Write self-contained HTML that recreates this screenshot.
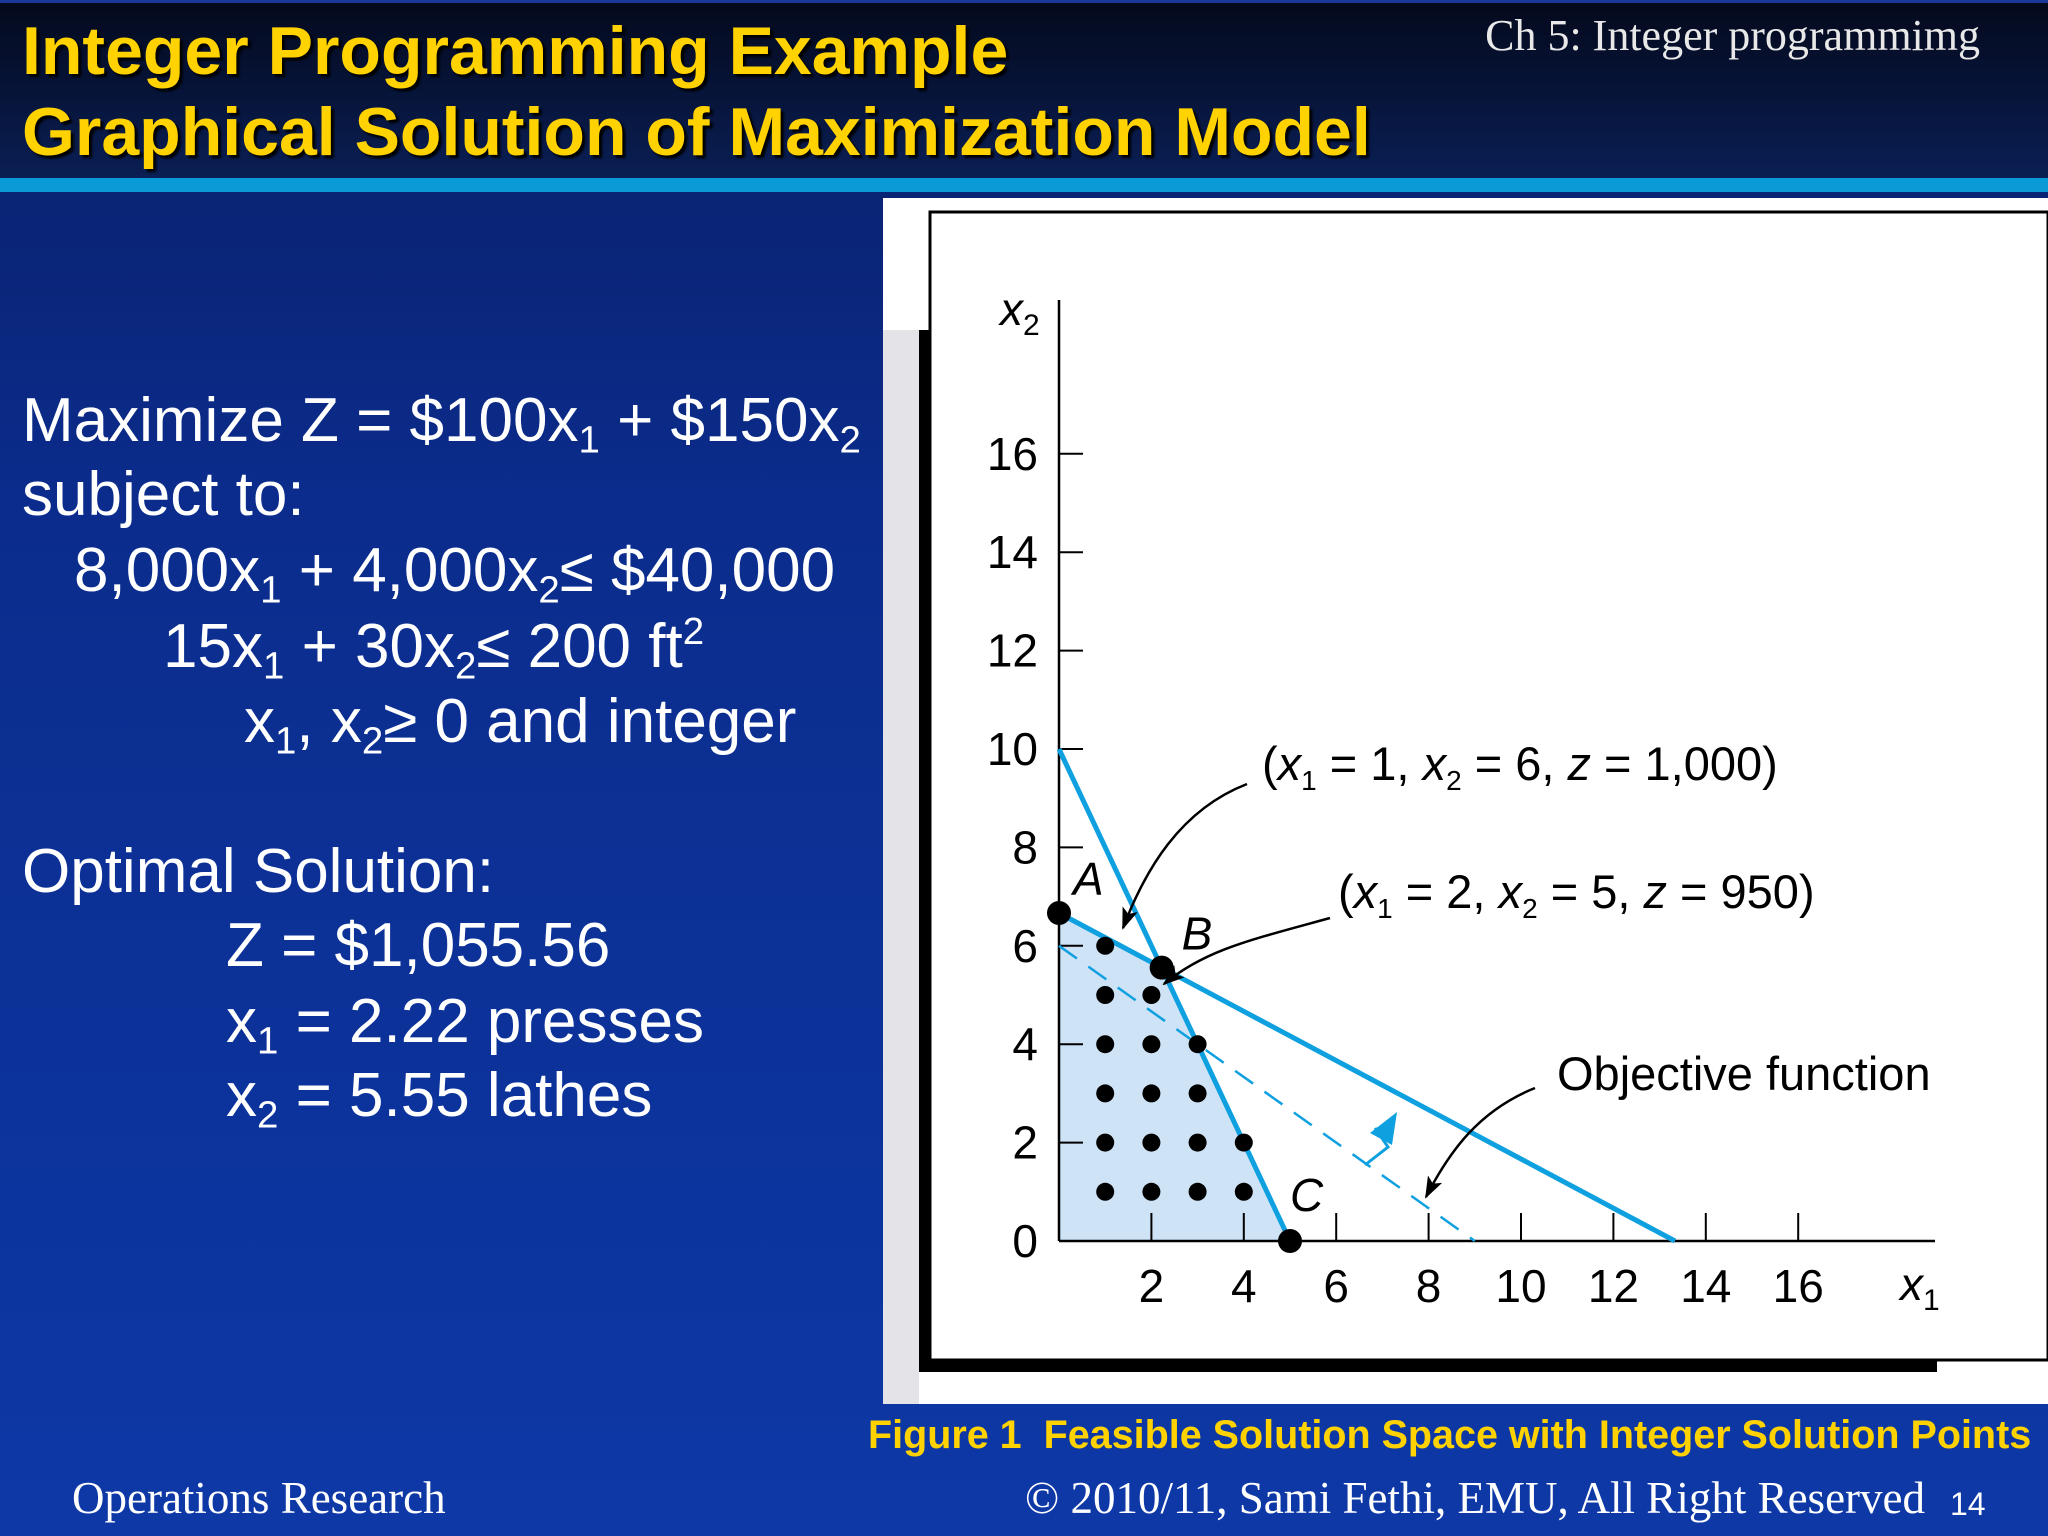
<!DOCTYPE html>
<html><head><meta charset="utf-8"><style>
html,body{margin:0;padding:0;width:2048px;height:1536px;overflow:hidden;}
body{background:linear-gradient(180deg,#0a1f66 0px,#0b2c8c 500px,#0d38a6 1536px);font-family:"Liberation Sans",sans-serif;position:relative;}
#hdr{position:absolute;left:0;top:0;width:2048px;height:178px;background:linear-gradient(180deg,#04091c,#0a1f55);border-top:3px solid #1a3a9a;box-sizing:border-box;}
#band{position:absolute;left:0;top:178px;width:2048px;height:14px;background:#0a9ad6;}
.t{position:absolute;white-space:nowrap;}
.title{color:#ffd200;font-weight:bold;font-size:68px;left:22px;text-shadow:3px 3px 2px #000;}
.lt{color:#fff;font-size:62px;}
sub{font-size:0.62em;vertical-align:-0.3em;line-height:0}
sup{font-size:0.62em;vertical-align:0.6em;line-height:0}
.serif{font-family:"Liberation Serif",serif;color:#fff;}
</style></head><body>
<div id="hdr"></div>
<div id="band"></div>
<div class="t title" style="top:12px">Integer Programming Example</div>
<div class="t title" style="top:93px">Graphical Solution of Maximization Model</div>
<div class="t serif" style="right:68px;top:10px;font-size:44px;color:#e8e8e8">Ch 5: Integer programmimg</div>

<div class="t lt" style="left:22px;top:385px">Maximize Z = $100x<sub>1</sub> + $150x<sub>2</sub></div>
<div class="t lt" style="left:22px;top:459px">subject to:</div>
<div class="t lt" style="left:74px;top:535px">8,000x<sub>1</sub> + 4,000x<sub>2</sub>≤ $40,000</div>
<div class="t lt" style="left:163px;top:611px">15x<sub>1</sub> + 30x<sub>2</sub>≤ 200 ft<sup>2</sup></div>
<div class="t lt" style="left:244px;top:686px">x<sub>1</sub>, x<sub>2</sub>≥ 0 and integer</div>
<div class="t lt" style="left:22px;top:836px">Optimal Solution:</div>
<div class="t lt" style="left:226px;top:910px">Z = $1,055.56</div>
<div class="t lt" style="left:226px;top:986px">x<sub>1</sub> = 2.22 presses</div>
<div class="t lt" style="left:226px;top:1060px">x<sub>2</sub> = 5.55 lathes</div>

<svg id="chart" width="2048" height="1536" style="position:absolute;left:0;top:0" font-family="Liberation Sans, sans-serif">
<defs><marker id="ah" markerWidth="22" markerHeight="16" refX="20" refY="8" orient="auto" markerUnits="userSpaceOnUse" viewBox="0 0 22 16"><path d="M0,0 L22,8 L0,16 L5,8 z" fill="#000"/></marker></defs>
<rect x="883" y="198" width="1165" height="1206" fill="#fff"/>
<rect x="883" y="330" width="36" height="1074" fill="#e4e4e8"/>
<rect x="919" y="330" width="12" height="1042" fill="#000"/>
<rect x="919" y="1360" width="1018" height="12" fill="#000"/>
<rect x="930" y="212" width="1118" height="1148" fill="#fff" stroke="#000" stroke-width="3"/>
<g id="plot"></g>
</svg>

<div class="t" style="left:868px;top:1413px;color:#ffd200;font-weight:bold;font-size:39.5px">Figure 1&nbsp; Feasible Solution Space with Integer Solution Points</div>
<div class="t serif" style="left:72px;top:1472px;font-size:45px">Operations Research</div>
<div class="t serif" style="left:1025px;top:1472px;font-size:45px">© 2010/11, Sami Fethi, EMU, All Right Reserved</div>
<div class="t" style="left:1950px;top:1486px;font-size:32px;color:#fff">14</div>

<script>
const xTicks=[2,4,6,8,10,12,14,16];
const yTicks=[0,2,4,6,8,10,12,14,16];
const constraint1=[[0,10],[5,0]];
const constraint2=[[0,6.667],[13.333,0]];
const objectiveLine=[[0,6],[9,0]];
const feasible=[[0,0],[0,6.667],[2.222,5.556],[5,0]];
const intX=[1,1,1,1,1,1,2,2,2,2,2,3,3,3,3,4,4];
const intY=[1,2,3,4,5,6,1,2,3,4,5,1,2,3,4,1,2];
const corners=[["A",0,6.667],["B",2.222,5.556],["C",5,0]];
const NS="http://www.w3.org/2000/svg";
const X0=1059,Y0=1241,UX=46.2,UY=49.2;
const sx=v=>X0+v*UX, sy=v=>Y0-v*UY;
const g=document.getElementById('plot');
function mk(t,a,p){const e=document.createElementNS(NS,t);for(const k in a)e.setAttribute(k,a[k]);(p||g).appendChild(e);return e;}
let e;
e=mk('polygon',{points:feasible.map(p=>sx(p[0])+','+sy(p[1])).join(' '),fill:'#cfe3f7'});


e=mk('line',{x1:X0,y1:Y0,x2:X0,y2:300,stroke:'#000','stroke-width':2.5});


e=mk('line',{x1:X0,y1:Y0,x2:1935,y2:Y0,stroke:'#000','stroke-width':2.5});


yTicks.forEach(v=>{
 if(v>0){e=mk('line',{x1:X0,y1:sy(v),x2:X0+24,y2:sy(v),stroke:'#000','stroke-width':2});
 
 }
 e=mk('text',{x:1038,y:sy(v)+16,'text-anchor':'end','font-size':46,fill:'#000'});e.textContent=v;
 
 
});
xTicks.forEach(v=>{
 e=mk('line',{x1:sx(v),y1:Y0,x2:sx(v),y2:Y0-28,stroke:'#000','stroke-width':2});
 
 
 e=mk('text',{x:sx(v),y:1302,'text-anchor':'middle','font-size':46,fill:'#000'});e.textContent=v;
 
 
});
e=mk('text',{x:1000,y:325,'font-size':46,'font-style':'italic'});e.innerHTML='x<tspan font-size="30" dy="10" font-style="normal">2</tspan>';


e=mk('text',{x:1900,y:1300,'font-size':46,'font-style':'italic'});e.innerHTML='x<tspan font-size="30" dy="10" font-style="normal">1</tspan>';


[constraint1,constraint2].forEach((c,i)=>{
 e=mk('line',{x1:sx(c[0][0]),y1:sy(c[0][1]),x2:sx(c[1][0]),y2:sy(c[1][1]),stroke:'#0fa0e0','stroke-width':5});
 
 
});
e=mk('line',{x1:sx(objectiveLine[0][0]),y1:sy(objectiveLine[0][1]),x2:sx(objectiveLine[1][0]),y2:sy(objectiveLine[1][1]),stroke:'#0fa0e0','stroke-width':2.5,'stroke-dasharray':'22 14'});


e=mk('path',{d:'M1365,1165 L1388,1147 L1375,1128',fill:'none',stroke:'#0fa0e0','stroke-width':3});


mk('polygon',{points:'1397,1112 1392,1145 1370,1133',fill:'#0fa0e0'});
intX.forEach((v,i)=>{
 e=mk('circle',{cx:sx(v),cy:sy(intY[i]),r:9,fill:'#000'});
 
 
});
const lblOff={A:[14,-18],B:[20,-18],C:[0,-30]};
corners.forEach(c=>{
 e=mk('circle',{cx:sx(c[1]),cy:sy(c[2]),r:12,fill:'#000'});
 
 
 e=mk('text',{x:sx(c[1])+lblOff[c[0]][0],y:sy(c[2])+lblOff[c[0]][1],'font-size':46,'font-style':'italic'});e.textContent=c[0];
 
 
});
e=mk('text',{x:1262,y:780,'font-size':47});e.innerHTML='(<tspan font-style="italic">x</tspan><tspan font-size="28" dy="10">1</tspan><tspan dy="-10"> = 1, </tspan><tspan font-style="italic">x</tspan><tspan font-size="28" dy="10">2</tspan><tspan dy="-10"> = 6, </tspan><tspan font-style="italic">z</tspan> = 1,000)';


e=mk('text',{x:1338,y:908,'font-size':47});e.innerHTML='(<tspan font-style="italic">x</tspan><tspan font-size="28" dy="10">1</tspan><tspan dy="-10"> = 2, </tspan><tspan font-style="italic">x</tspan><tspan font-size="28" dy="10">2</tspan><tspan dy="-10"> = 5, </tspan><tspan font-style="italic">z</tspan> = 950)';


e=mk('text',{x:1557,y:1090,'font-size':47});e.textContent='Objective function';


[['M1247,784 C1180,810 1145,870 1123,928','arrow-1'],['M1330,918 C1250,940 1205,950 1164,984','arrow-2'],['M1535,1088 C1480,1110 1450,1150 1426,1197','arrow-3']].forEach(a=>{
 e=mk('path',{d:a[0],fill:'none',stroke:'#000','stroke-width':2.5,'marker-end':'url(#ah)'});
 
 
});
</script>
</body></html>
